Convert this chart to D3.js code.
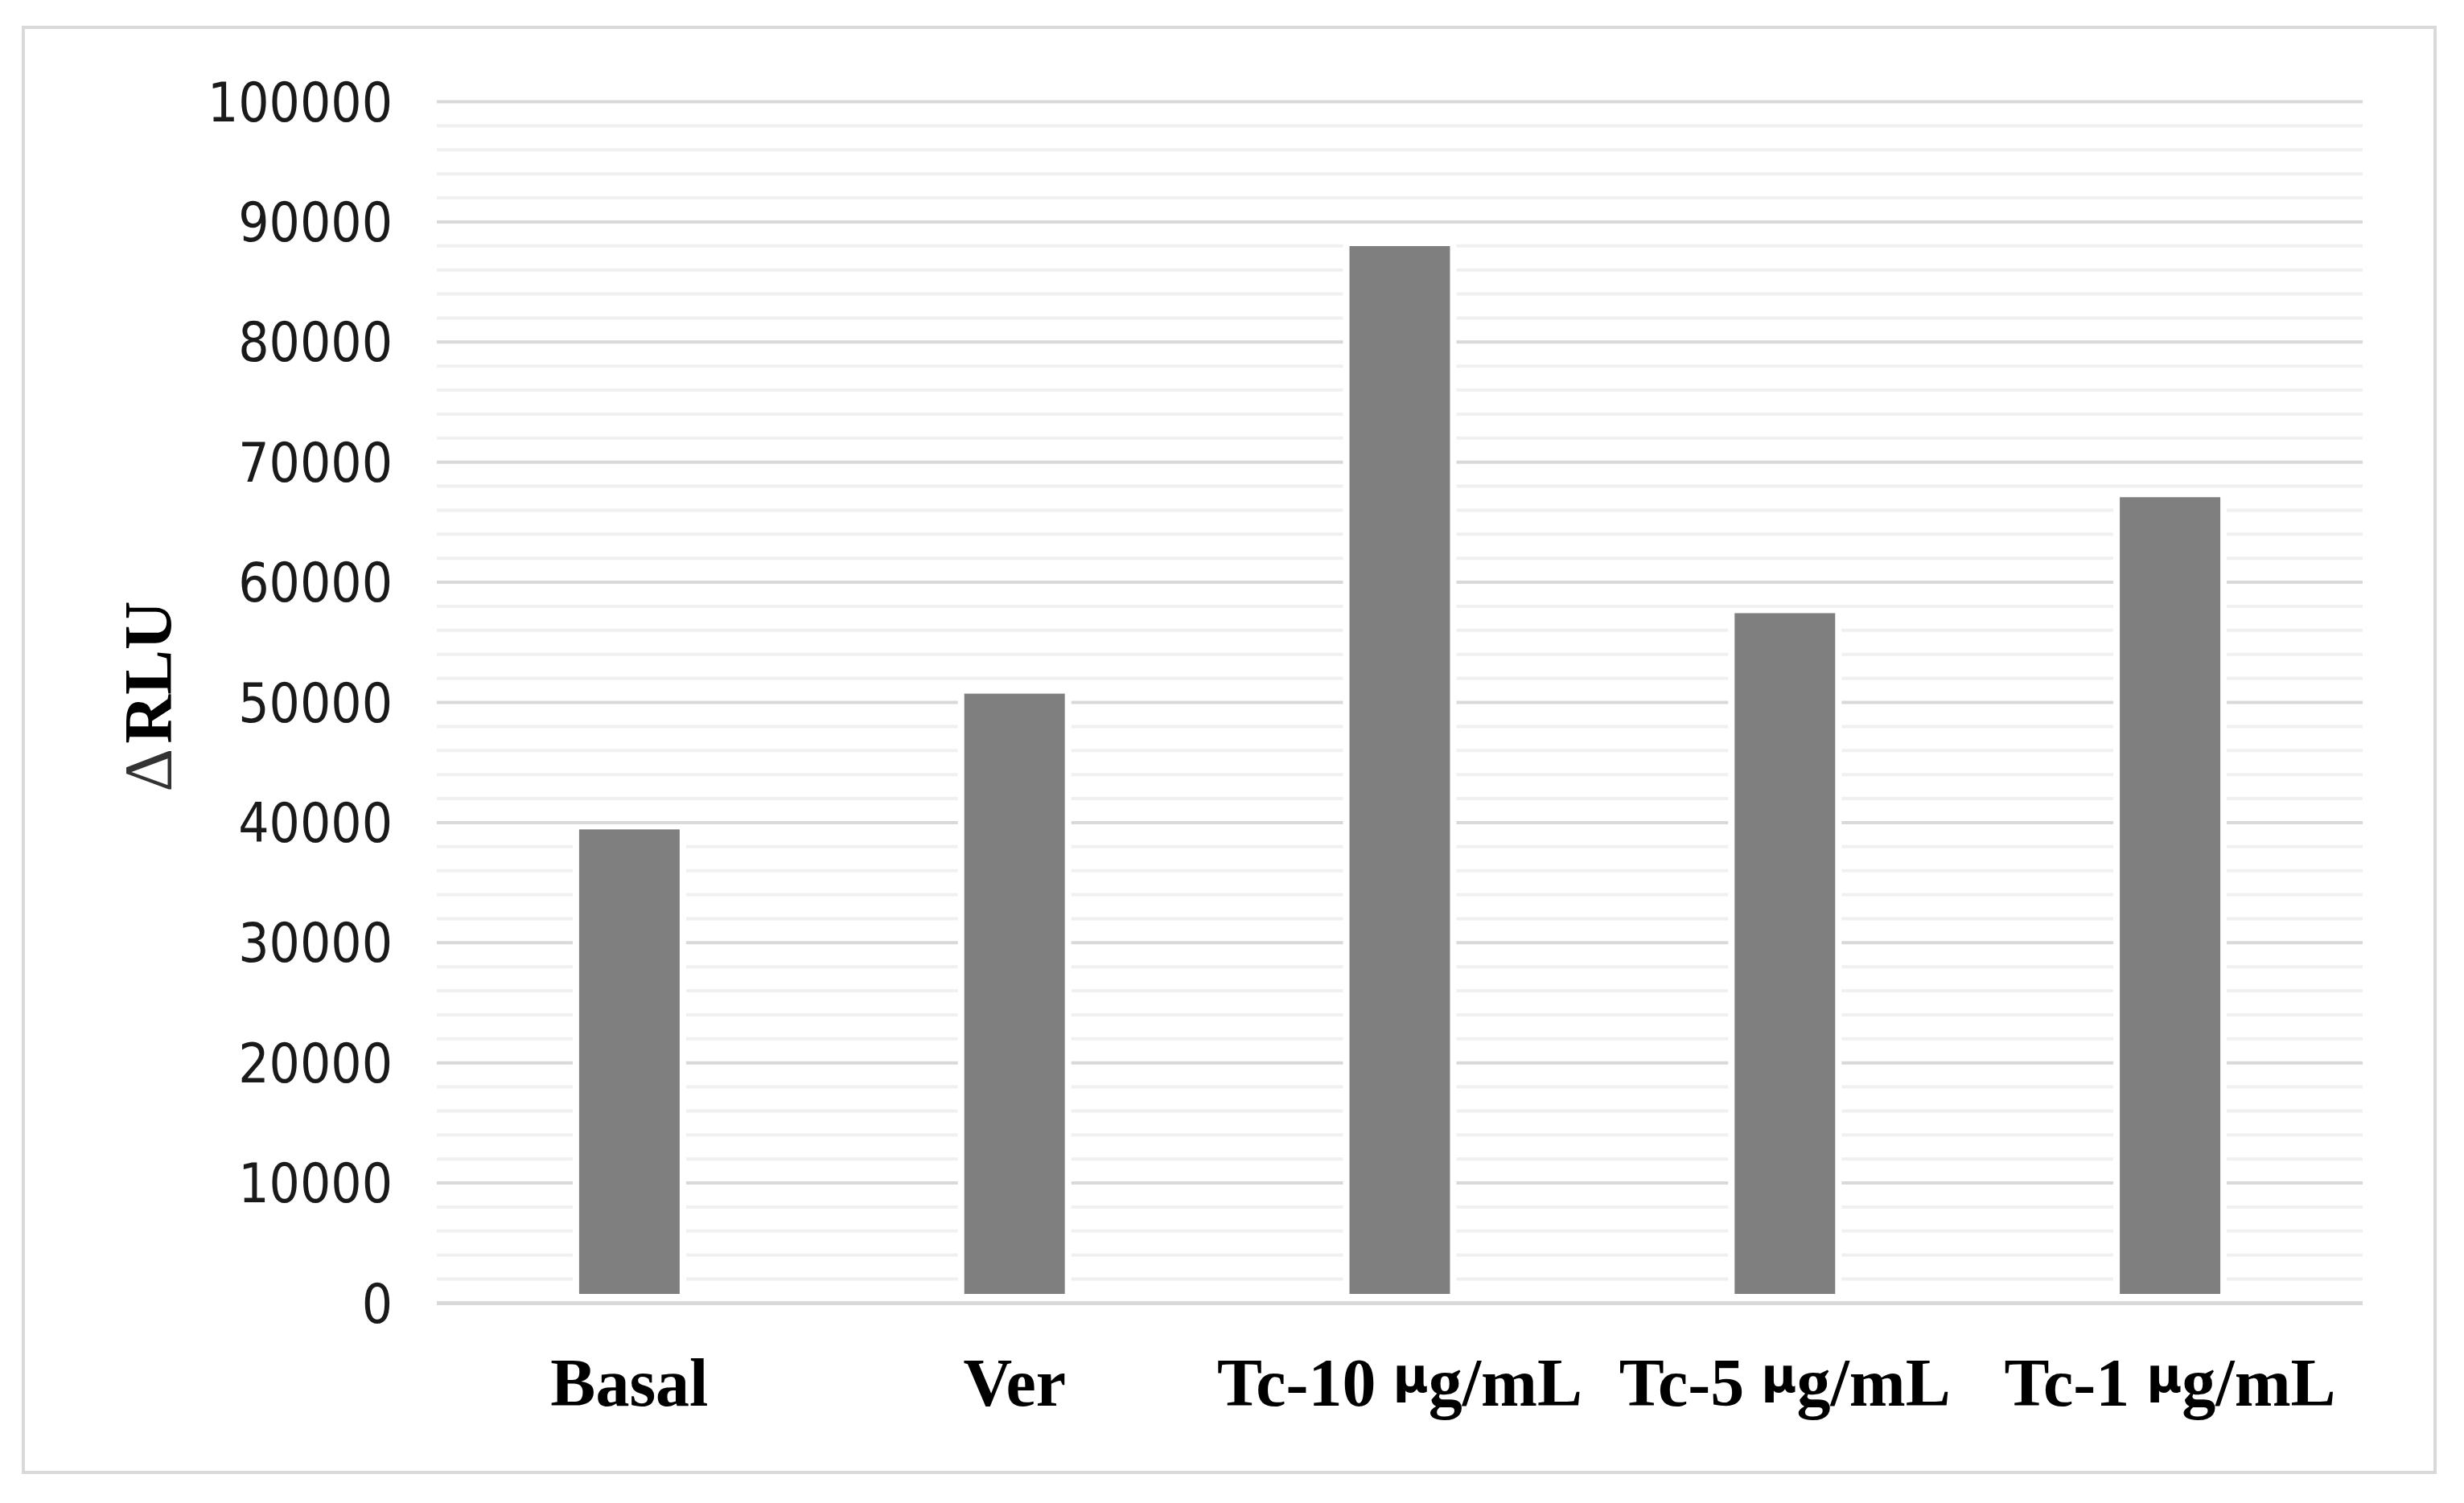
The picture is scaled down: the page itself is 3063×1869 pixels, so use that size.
<!DOCTYPE html>
<html>
<head>
<meta charset="utf-8">
<script src="https://cdn.jsdelivr.net/npm/d3@7"></script>
<style>
  html, body { margin: 0; padding: 0; background: #ffffff; }
  svg { display: block; }
</style>
</head>
<body>
<svg id="chart" width="3063" height="1869"></svg>
<script>
// ---- data ----
const categories = ["Basal", "Ver", "Tc-10", "Tc-5", "Tc-1"];
const labelPrefix = ["Basal", "Ver", "Tc-10 ", "Tc-5 ", "Tc-1 "];
const labelUnitMu = ["", "", "\u03BC", "\u03BC", "\u03BC"];
const labelUnitRest = ["", "", "g/mL", "g/mL", "g/mL"];
const values = [39400, 50700, 87950, 57400, 67050];
const majorTicks = [0, 10000, 20000, 30000, 40000, 50000, 60000, 70000, 80000, 90000, 100000];
const minorTicks = d3.range(0, 100001, 2000);
const yTitleDelta = "\u0394";
const yTitleText = "RLU";

// ---- layout ----
const W = 3063, H = 1869;
const plot = { left: 543, right: 2937, top: 126, bottom: 1620 };

const svg = d3.select("#chart");
svg.append("rect").attr("x", 0).attr("y", 0).attr("width", W).attr("height", H).attr("fill", "#ffffff");
// outer frame
svg.append("rect")
  .attr("x", 29).attr("y", 34).attr("width", 2998).attr("height", 1797)
  .attr("fill", "#ffffff").attr("stroke", "#d9d9d9").attr("stroke-width", 4);

const x = d3.scaleBand().domain(categories).range([plot.left, plot.right])
  .paddingInner(0.739).paddingOuter(0.739 / 2);
const y = d3.scaleLinear().domain([0, 100000]).range([plot.bottom, plot.top]);

// minor gridlines
const minorAxis = d3.axisLeft(y).tickValues(minorTicks.filter(v => v % 10000 !== 0))
  .tickSize(-(plot.right - plot.left)).tickFormat("");
const gMinor = svg.append("g").attr("transform", `translate(${plot.left},0)`).call(minorAxis);
gMinor.select(".domain").remove();
gMinor.selectAll("line").attr("stroke", "#f0f0f0").attr("stroke-width", 4);

// major gridlines (non-zero)
const majorAxis = d3.axisLeft(y).tickValues(majorTicks.filter(v => v !== 0))
  .tickSize(-(plot.right - plot.left)).tickFormat("");
const gMajor = svg.append("g").attr("transform", `translate(${plot.left},0)`).call(majorAxis);
gMajor.select(".domain").remove();
gMajor.selectAll("line").attr("stroke", "#d9d9d9").attr("stroke-width", 4);

// bars with a faint white halo
const barGap = 11;
svg.append("g").selectAll("rect.halo").data(values).join("rect")
  .attr("class", "halo")
  .attr("x", (d, i) => x(categories[i]) - 8)
  .attr("y", d => y(d) - 5)
  .attr("width", x.bandwidth() + 16)
  .attr("height", d => y(0) - y(d) + 5 - barGap)
  .attr("fill", "#ffffff");
svg.append("g").selectAll("rect.bar").data(values).join("rect")
  .attr("class", "bar")
  .attr("x", (d, i) => x(categories[i]))
  .attr("y", d => y(d))
  .attr("width", x.bandwidth())
  .attr("height", d => y(0) - y(d) - barGap)
  .attr("fill", "#7f7f7f");

// zero line
const zeroAxis = d3.axisLeft(y).tickValues([0]).tickSize(-(plot.right - plot.left)).tickFormat("");
const gZero = svg.append("g").attr("transform", `translate(${plot.left},0)`).call(zeroAxis);
gZero.select(".domain").remove();
gZero.selectAll("line").attr("stroke", "#d9d9d9").attr("stroke-width", 5);

// y tick labels
const yAxis = d3.axisLeft(y).tickValues(majorTicks).tickSize(0).tickPadding(55).tickFormat(d3.format("d"));
const gY = svg.append("g").attr("transform", `translate(${plot.left},0)`).call(yAxis);
gY.select(".domain").remove();
gY.selectAll("text")
  .attr("font-family", "'DejaVu Sans Condensed', 'DejaVu Sans', sans-serif")
  .style("font-stretch", "condensed")
  .attr("font-size", 67)
  .attr("fill", "#1a1a1a")
  .attr("dy", "0.36em");

// x labels
const xAxis = d3.axisBottom(x).tickSize(0).tickFormat("");
const gX = svg.append("g").attr("transform", `translate(0,${plot.bottom})`).call(xAxis);
gX.select(".domain").remove();
gX.selectAll(".tick").each(function(d, i) {
  const t = d3.select(this).append("text")
    .attr("x", 0).attr("y", 128)
    .attr("text-anchor", "middle")
    .attr("font-family", "'Liberation Serif', 'Times New Roman', serif")
    .attr("font-weight", "bold")
    .attr("font-size", 84)
    .attr("fill", "#000000");
  t.append("tspan").text(labelPrefix[i]);
  if (labelUnitMu[i]) {
    t.append("tspan")
      .attr("font-family", "'DejaVu Sans', sans-serif")
      .attr("font-size", 60)
      .attr("dy", -17)
      .text(labelUnitMu[i]);
    t.append("tspan")
      .attr("dy", 17)
      .text(labelUnitRest[i]);
  }
});

// y title
const yt = svg.append("text")
  .attr("transform", "translate(213,866) rotate(-90)")
  .attr("text-anchor", "middle")
  .attr("font-family", "'Liberation Serif', 'Times New Roman', serif")
  .attr("font-size", 84)
  .attr("fill", "#000000");
yt.append("tspan").attr("font-weight", "normal").attr("fill", "#333333").text(yTitleDelta);
yt.append("tspan").attr("font-weight", "bold").attr("dx", 6).text(yTitleText);
</script>
</body>
</html>
